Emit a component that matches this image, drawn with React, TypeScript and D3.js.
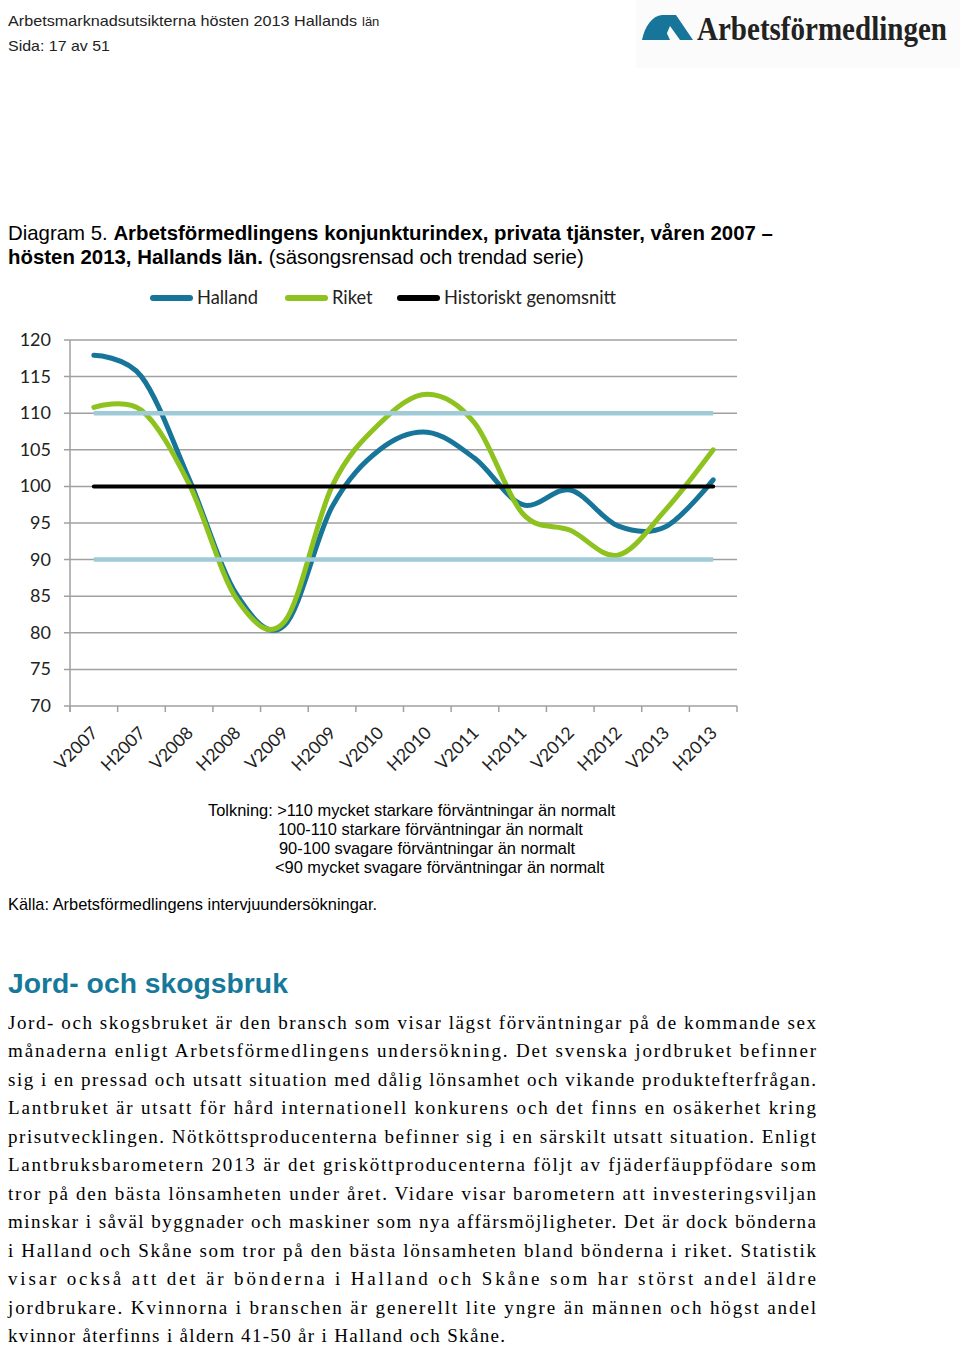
import React from "react";
import * as d3 from "d3";

const categories = ["V2007","H2007","V2008","H2008","V2009","H2009","V2010","H2010","V2011","H2011","V2012","H2012","V2013","H2013"];
const halland = [117.9,115.0,101.0,85.2,81.0,97.2,105.0,107.4,103.8,97.5,99.5,94.6,94.5,100.9];
const riket = [110.8,110.4,100.3,84.6,81.5,100.0,108.6,112.6,108.6,96.3,94.0,90.6,96.8,105.0];
const historiskt = 100;
const bandHigh = 110;
const bandLow = 90;
const yTicks = [70,75,80,85,90,95,100,105,110,115,120];
const legendItems = [
  { label: "Halland", color: "#17759a" },
  { label: "Riket", color: "#8dc21f" },
  { label: "Historiskt genomsnitt", color: "#000000" },
];
const tolkning = [
  "Tolkning: >110 mycket starkare förväntningar än normalt",
  "100-110 starkare förväntningar än normalt",
  "90-100 svagare förväntningar än normalt",
  "<90 mycket svagare förväntningar än normalt",
];
const paragraph = [
  "Jord- och skogsbruket är den bransch som visar lägst förväntningar på de kommande sex",
  "månaderna enligt Arbetsförmedlingens undersökning. Det svenska jordbruket befinner",
  "sig i en pressad och utsatt situation med dålig lönsamhet och vikande produktefterfrågan.",
  "Lantbruket är utsatt för hård internationell konkurens och det finns en osäkerhet kring",
  "prisutvecklingen. Nötköttsproducenterna befinner sig i en särskilt utsatt situation. Enligt",
  "Lantbruksbarometern 2013 är det grisköttproducenterna följt av fjäderfäuppfödare som",
  "tror på den bästa lönsamheten under året. Vidare visar barometern att investeringsviljan",
  "minskar i såväl byggnader och maskiner som nya affärsmöjligheter. Det är dock bönderna",
  "i Halland och Skåne som tror på den bästa lönsamheten bland bönderna i riket. Statistik",
  "visar också att det är bönderna i Halland och Skåne som har störst andel äldre",
  "jordbrukare. Kvinnorna i branschen är generellt lite yngre än männen och högst andel",
  "kvinnor återfinns i åldern 41-50 år i Halland och Skåne.",
];

export default function App() {
  const x = d3.scaleBand<string>().domain(categories).range([70, 737]);
  const cx = (c: string) => (x(c) as number) + x.bandwidth() / 2;
  const y = d3.scaleLinear().domain([70, 120]).range([706, 340]);
  const line = d3
    .line<number>()
    .x((_, i) => cx(categories[i]))
    .y((d) => y(d))
    .curve(d3.curveCardinal.tension(0));
  const x0 = cx(categories[0]);
  const x1 = cx(categories[categories.length - 1]);
  const boundaries = categories.map((c) => x(c) as number).concat([737]);
  const legendX = [150, 285, 397];
  const chartFont = "Lato, 'Open Sans', sans-serif";
  const sans = "'Liberation Sans', Arial, sans-serif";
  const serif = "'Liberation Serif', 'Times New Roman', serif";

  return (
    <div style={{ position: "absolute", left: 0, top: 0 }}>
      <svg width={960} height={1347} style={{ display: "block", background: "#fff" }}>
        {/* Header */}
        <text x={8} y={26} fontFamily={sans} fontSize={15} fill="#222">
          <tspan textLength={349} lengthAdjust="spacingAndGlyphs">Arbetsmarknadsutsikterna hösten 2013 Hallands</tspan>
          <tspan fontSize={13} dx={5}>län</tspan>
        </text>
        <text x={8} y={51} fontFamily={sans} fontSize={15} fill="#222" textLength={102} lengthAdjust="spacingAndGlyphs">
          Sida: 17 av 51
        </text>
        {/* Logo */}
        <rect x={636} y={0} width={324} height={68} fill="#fbfbfb" />
        <path d="M642,40 C645,26 652,16 662,15 L676,15 L693,40 L680,40 L670,26 L664,40 Z" fill="#17759a" />
        <path d="M656,40 C657,33 661,28 664,27 L670,40 Z" fill="#17759a" />
        <text
          transform="translate(697,40) scale(1,1.2)"
          x={0}
          y={0}
          fontFamily={serif}
          fontSize={28}
          fontWeight="bold"
          fill="#222"
          textLength={250}
          lengthAdjust="spacingAndGlyphs"
        >
          Arbetsförmedlingen
        </text>

        {/* Title */}
        <text x={8} y={240} fontFamily={sans} fontSize={20.4} fill="#000">
          <tspan>Diagram 5. </tspan>
          <tspan fontWeight="bold">Arbetsförmedlingens konjunkturindex, privata tjänster, våren 2007 –</tspan>
        </text>
        <text x={8} y={264} fontFamily={sans} fontSize={20.4} fill="#000">
          <tspan fontWeight="bold">hösten 2013, Hallands län.</tspan>
          <tspan> (säsongsrensad och trendad serie)</tspan>
        </text>

        {/* Legend */}
        {legendItems.map((it, i) => (
          <g key={it.label}>
            <line x1={legendX[i] + 3} x2={legendX[i] + 40} y1={298} y2={298} stroke={it.color} strokeWidth={6} strokeLinecap="round" />
            <text x={legendX[i] + 47} y={304} fontFamily={chartFont} fontSize={18.3} fill="#222">
              {it.label}
            </text>
          </g>
        ))}

        {/* Gridlines */}
        {yTicks.map((t) => (
          <g key={t}>
            <line x1={64} x2={737} y1={y(t)} y2={y(t)} stroke="#a0a0a0" strokeWidth={1.5} />
            <text x={51} y={y(t) + 6} textAnchor="end" fontFamily={chartFont} fontSize={18} fill="#222">
              {t}
            </text>
          </g>
        ))}
        <line x1={70} x2={70} y1={340} y2={712} stroke="#a0a0a0" strokeWidth={1.5} />
        {boundaries.map((b, i) => (
          <line key={i} x1={b} x2={b} y1={706} y2={712} stroke="#a0a0a0" strokeWidth={1.5} />
        ))}
        {categories.map((c) => (
          <text
            key={c}
            transform={`translate(${cx(c) + 5},${734}) rotate(-45)`}
            textAnchor="end"
            fontFamily={chartFont}
            fontSize={17.5}
            fill="#222"
          >
            {c}
          </text>
        ))}

        {/* Series */}
        <path d={line(halland) || ""} fill="none" stroke="#17759a" strokeWidth={5} strokeLinecap="round" />
        <path d={line(riket) || ""} fill="none" stroke="#8dc21f" strokeWidth={5} strokeLinecap="round" />
        <line x1={x0} x2={x1} y1={y(historiskt)} y2={y(historiskt)} stroke="#000" strokeWidth={4} strokeLinecap="round" />
        <line x1={x0} x2={x1} y1={y(bandHigh)} y2={y(bandHigh)} stroke="#9fcbd8" strokeWidth={4.5} />
        <line x1={x0} x2={x1} y1={y(bandLow)} y2={y(bandLow)} stroke="#9fcbd8" strokeWidth={4.5} />

        {/* Tolkning */}
        <text x={208} y={816} fontFamily={sans} fontSize={16.4} fill="#000">{tolkning[0]}</text>
        <text x={278} y={835} fontFamily={sans} fontSize={16.4} fill="#000">{tolkning[1]}</text>
        <text x={279} y={854} fontFamily={sans} fontSize={16.4} fill="#000">{tolkning[2]}</text>
        <text x={275} y={873} fontFamily={sans} fontSize={16.4} fill="#000">{tolkning[3]}</text>
        <text x={8} y={910} fontFamily={sans} fontSize={16.4} fill="#000">Källa: Arbetsförmedlingens intervjuundersökningar.</text>

        {/* Heading */}
        <text x={8} y={993} fontFamily={sans} fontSize={28.3} fontWeight="bold" fill="#17799a">
          Jord- och skogsbruk
        </text>
        {paragraph.map((p, i) => (
          <text
            key={i}
            x={8}
            y={1029 + i * 28.45}
            fontFamily={serif}
            fontSize={19}
            fill="#000"
            textLength={i === paragraph.length - 1 ? 497 : 808}
            lengthAdjust="spacing"
          >
            {p}
          </text>
        ))}
      </svg>
    </div>
  );
}
